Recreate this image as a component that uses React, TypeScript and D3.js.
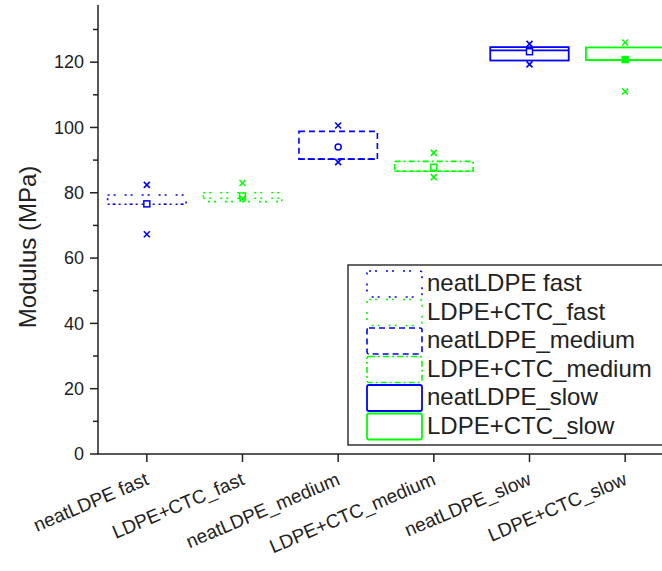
import React from "react";
import * as d3 from "d3";

const categories = [
  "neatLDPE fast",
  "LDPE+CTC_fast",
  "neatLDPE_medium",
  "LDPE+CTC_medium",
  "neatLDPE_slow",
  "LDPE+CTC_slow",
];
const q1 = [76.5, 77.3, 90.3, 86.6, 120.5, 120.6];
const q3 = [79.3, 80.0, 98.8, 89.6, 124.6, 124.5];
const medians = [76.5, 78.3, 90.3, 86.6, 123.6, 120.6];
const means = [76.6, 79.0, 94.0, 87.8, 123.2, 120.8];
const maxs = [82.4, 83.0, 100.6, 92.2, 125.6, 126.0];
const mins = [67.3, 78.2, 89.4, 84.8, 119.3, 111.0];
const colors = ["#0000ff", "#00ff00", "#0000ff", "#00ff00", "#0000ff", "#00ff00"];
const dashes = ["2,4,2,9", "2,4,2,9", "6,4", "6,3,2,3", "none", "none"];
const meanShapes = ["square", "square", "circle", "square", "square", "filled"];
const yTicks = [0, 20, 40, 60, 80, 100, 120];
const yMinorTicks = [10, 30, 50, 70, 90, 110, 130];

const W = 662;
const H = 571;

export default function App() {
  const x = d3.scaleLinear().domain([0.5, 6.5]).range([99, 673]);
  const y = d3.scaleLinear().domain([0, 137.5]).range([454, 5]);
  const bw = x(0.82) - x(0);
  const axisColor = "#222";
  const font = "Liberation Sans, Arial, sans-serif";

  const xMark = (cx: number, cy: number, c: string, k: string) => (
    <path
      key={k}
      d={`M${cx - 3},${cy - 3}L${cx + 3},${cy + 3}M${cx - 3},${cy + 3}L${cx + 3},${cy - 3}`}
      stroke={c}
      strokeWidth={1.6}
      fill="none"
    />
  );

  const legendTop = 283;
  const legendStep = 28.5;

  return (
    <svg
      width={W}
      height={H}
      style={{ position: "absolute", left: 0, top: 0, background: "#fff" }}
      fontFamily={font}
    >
      <rect x={0} y={0} width={W} height={H} fill="#fff" />
      {/* boxes */}
      {categories.map((c, i) => {
        const cx = x(i + 1);
        const col = colors[i];
        const da = dashes[i];
        const sw = da === "none" ? 1.8 : 1.6;
        const my = y(means[i]);
        return (
          <g key={c}>
            <rect
              x={cx - bw / 2}
              y={y(q3[i])}
              width={bw}
              height={y(q1[i]) - y(q3[i])}
              fill="none"
              stroke={col}
              strokeWidth={sw}
              strokeDasharray={da}
            />
            <line
              x1={cx - bw / 2}
              x2={cx + bw / 2}
              y1={y(medians[i])}
              y2={y(medians[i])}
              stroke={col}
              strokeWidth={sw}
              strokeDasharray={da}
            />
            {meanShapes[i] === "circle" ? (
              <circle cx={cx} cy={my} r={3} fill="#fff" stroke={col} strokeWidth={1.5} />
            ) : (
              <rect
                x={cx - 3}
                y={my - 3}
                width={6}
                height={6}
                fill={meanShapes[i] === "filled" ? col : "#fff"}
                stroke={col}
                strokeWidth={1.5}
              />
            )}
            {xMark(cx, y(maxs[i]), col, "max")}
            {xMark(cx, y(mins[i]), col, "min")}
          </g>
        );
      })}

      {/* y axis */}
      <line x1={98} x2={98} y1={y(137.5)} y2={y(0)} stroke={axisColor} strokeWidth={1.5} />
      {yTicks.map((t) => (
        <g key={t}>
          <line x1={90} x2={98} y1={y(t)} y2={y(t)} stroke={axisColor} strokeWidth={1.5} />
          <text
            x={84}
            y={y(t)}
            dy="0.35em"
            textAnchor="end"
            fontSize={18}
            fill="#222"
          >
            {t}
          </text>
        </g>
      ))}
      {yMinorTicks.map((t) => (
        <line key={t} x1={93} x2={98} y1={y(t)} y2={y(t)} stroke={axisColor} strokeWidth={1.5} />
      ))}
      <text
        transform={`translate(28,247) rotate(-90)`}
        textAnchor="middle"
        dy="0.35em"
        fontSize={24}
        fill="#222"
      >
        Modulus (MPa)
      </text>

      {/* x axis */}
      <line x1={97.3} x2={W} y1={y(0)} y2={y(0)} stroke={axisColor} strokeWidth={1.5} />
      {categories.map((c, i) => (
        <g key={c}>
          <line
            x1={x(i + 1)}
            x2={x(i + 1)}
            y1={y(0)}
            y2={y(0) + 8}
            stroke={axisColor}
            strokeWidth={1.5}
          />
          <text
            transform={`translate(${x(i + 1) + 3},${y(0) + 30}) rotate(-23)`}
            textAnchor="end"
            fontSize={19}
            fill="#222"
          >
            {c}
          </text>
        </g>
      ))}

      {/* legend */}
      <rect x={348} y={265} width={330} height={180} fill="#fff" stroke="#333" strokeWidth={1.5} />
      {categories.map((c, i) => {
        const cy = legendTop + i * legendStep;
        const da = dashes[i];
        return (
          <g key={c}>
            <rect
              x={367}
              y={cy - 12}
              width={55}
              height={26}
              rx={2}
              fill="#fff"
              stroke={colors[i]}
              strokeWidth={da === "none" ? 1.8 : 1.6}
              strokeDasharray={da}
            />
            <text x={427} y={cy} dy="0.35em" fontSize={24} fill="#222">
              {c}
            </text>
          </g>
        );
      })}
    </svg>
  );
}
